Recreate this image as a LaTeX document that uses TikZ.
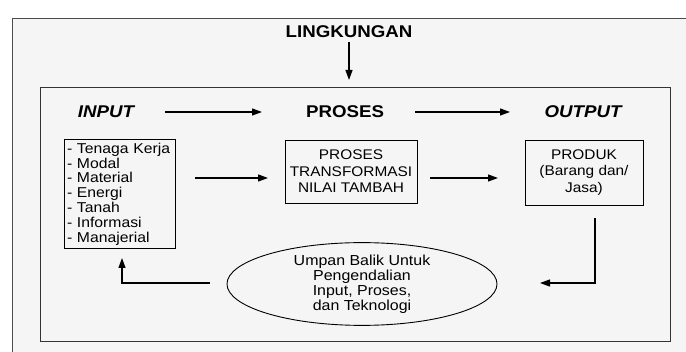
\documentclass[tikz,border=0pt]{standalone}
\usepackage{fontspec}
\setmainfont[FakeStretch=1.1]{Liberation Sans}
\usetikzlibrary{shapes.geometric,arrows.meta}
\begin{document}
\begin{tikzpicture}[x=1pt,y=-1pt,
  every node/.style={inner sep=0pt,outer sep=0pt},
  head/.style={font=\fontsize{17}{19}\selectfont\bfseries},
  ihead/.style={font=\fontsize{17}{19}\selectfont\bfseries\itshape},
  txt/.style={font=\fontsize{14}{16.5}\selectfont,align=center},
  arr/.style={line width=1.2pt,-{Triangle[length=10pt,width=7pt]}}]
\useasboundingbox (0,0) rectangle (686,352);
\fill[white] (0,0) rectangle (686,352);
\fill[black!4] (12,18) rectangle (686,352);
\draw[line width=0.8pt,black!70] (12,352) -- (12,18) -- (686,18);
\draw[line width=1pt,black!80] (40,88) rectangle (670,342);
% headings
\node[head] (env) at (349,32) {LINGKUNGAN};
\coordinate (envEnd) at (349,80);
\node[ihead] (in) at (106,112) {INPUT};
\node[head] (pr) at (345,112) {PROSES};
\node[ihead] (out) at (583,112) {OUTPUT};
\draw[arr] (349,42) -- (envEnd);
\draw[arr] (165,112) -- (262,112);
\draw[arr] (415,112) -- (510,112);
% boxes
\node[draw,line width=0.9pt,minimum width=111pt,minimum height=108pt,inner sep=3pt,
  font=\fontsize{14.3}{14.8}\selectfont,align=left,text width=105pt] (ib) at (119.5,194)
  {- Tenaga Kerja\\- Modal\\- Material\\- Energi\\- Tanah\\- Informasi\\- Manajerial};
\node[draw,line width=0.9pt,minimum width=132pt,minimum height=63pt,txt] (pb) at (351,171.5)
  {PROSES\\TRANSFORMASI\\NILAI TAMBAH};
\node[draw,line width=0.9pt,minimum width=118pt,minimum height=65pt,txt] (ob) at (584,172.5)
  {PRODUK\\(Barang dan/\\Jasa)};
\draw[arr] (195,178) -- (268,178);
\draw[arr] (430,178) -- (498,178);
% feedback
\node[draw,ellipse,line width=0.9pt,minimum width=270pt,minimum height=69pt,
  font=\fontsize{14.5}{15}\selectfont,align=center] (fb) at (362,284)
  {Umpan Balik Untuk\\Pengendalian\\Input, Proses,\\dan Teknologi};
\coordinate (a1) at (595,218);
\coordinate (a2) at (595,283);
\coordinate (a3) at (540,283);
\draw[arr] (a1) -- (a2) -- (a3);
\coordinate (b1) at (210,283);
\coordinate (b2) at (122,283);
\coordinate (b3) at (122,258);
\draw[arr] (b1) -- (b2) -- (b3);
\end{tikzpicture}
\end{document}
